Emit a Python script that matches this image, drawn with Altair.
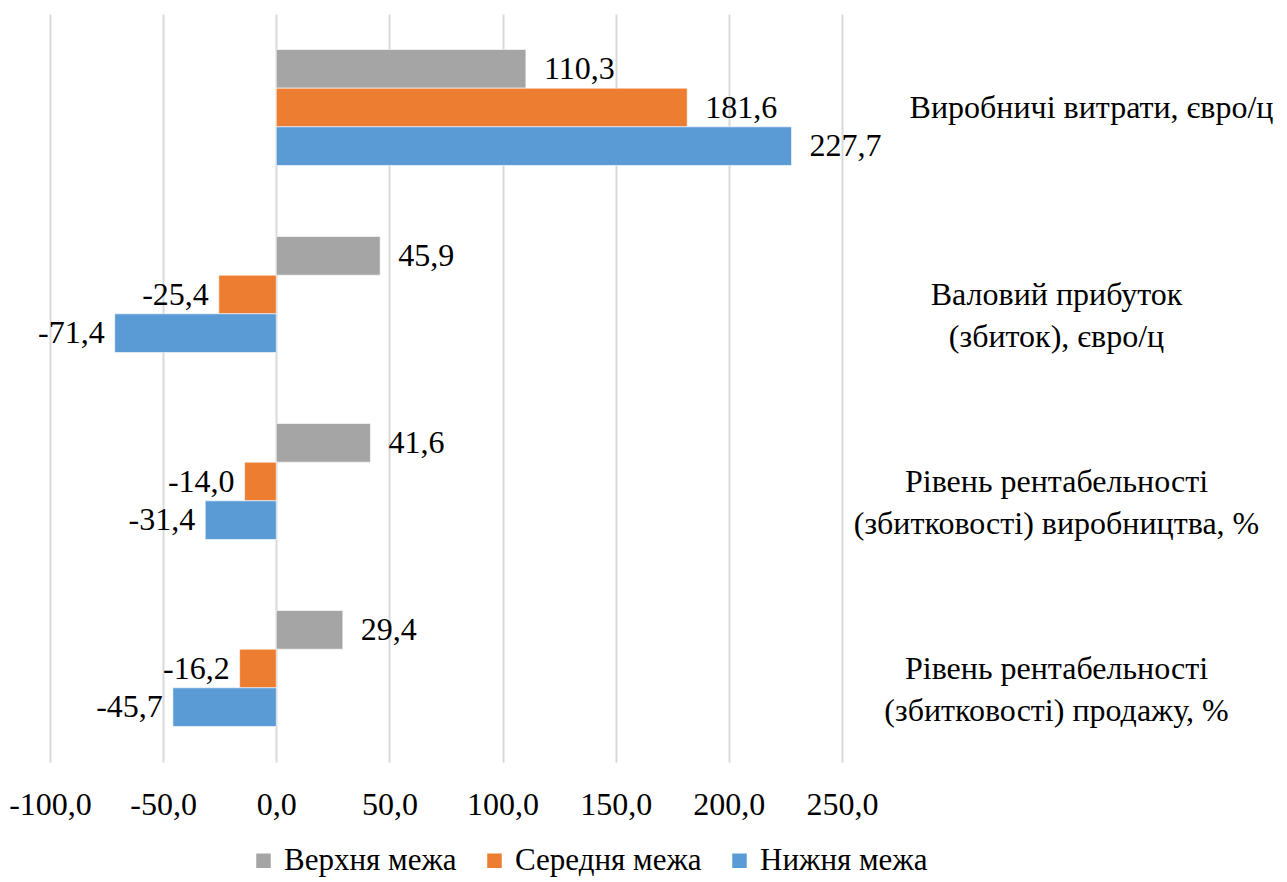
import altair as alt
import pandas as pd

categories = [
    "Виробничі витрати, євро/ц",
    "Валовий прибуток\n(збиток), євро/ц",
    "Рівень рентабельності\n(збитковості) виробництва, %",
    "Рівень рентабельності\n(збитковості) продажу, %",
]
series = ["Верхня межа", "Середня межа", "Нижня межа"]
upper = [110.3, 45.9, 41.6, 29.4]
middle = [181.6, -25.4, -14.0, -16.2]
lower = [227.7, -71.4, -31.4, -45.7]
colors = ["#A5A5A5", "#ED7D31", "#5B9BD5"]

rows = []
for s, vals in zip(series, [upper, middle, lower]):
    for c, v in zip(categories, vals):
        rows.append({"cat": c, "series": s, "v": v,
                     "lbl": f"{v:.1f}".replace(".", ",")})
df = pd.DataFrame(rows)

FONT = "Liberation Serif"

y = alt.Y("cat:N", sort=categories, title=None,
          scale=alt.Scale(paddingInner=0.38, paddingOuter=0.19),
          axis=alt.Axis(orient="right", domain=False, ticks=False,
                        labelAlign="center",
                        labelPadding={"condition": {"test": "indexof(datum.value, 'Виробничі') >= 0",
                                                    "value": 249},
                                      "value": 214},
                        labelFont=FONT, labelFontSize=32, labelColor="#000",
                        labelLineHeight=42, labelBaseline="middle",
                        labelExpr="split(datum.label, '\\n')", labelLimit=600))
yoff = alt.YOffset("series:N", sort=series)
x = alt.X("v:Q", title=None,
          scale=alt.Scale(domain=[-100, 250], nice=False, zero=False),
          axis=alt.Axis(values=[-100, -50, 0, 50, 100, 150, 200, 250],
                        domain=False, ticks=False, labelPadding=27,
                        labelOverlap=False, labelFlush=False, labelBound=False,
                        labelFont=FONT, labelFontSize=32, labelColor="#000",
                        labelExpr="replace(replace(format(datum.value, '.1f'), '.', ','), '\u2212', '-')",
                        grid=True, gridColor="#D9D9D9", gridWidth=2))

base = alt.Chart(df)

bars = base.mark_bar(stroke="white", strokeWidth=0.6).encode(
    y=y, yOffset=yoff, x=x,
    color=alt.Color("series:N", sort=series,
                    scale=alt.Scale(domain=series, range=colors),
                    legend=alt.Legend(title=None, orient="none", direction="horizontal",
                                      legendX=198, legendY=831,
                                      symbolType="square", symbolSize=210,
                                      symbolStrokeWidth=0,
                                      labelFont=FONT, labelFontSize=31, labelColor="#000",
                                      labelOffset=5, columnPadding=22, labelLimit=400)),
)

pos = base.transform_filter("datum.v >= 0").mark_text(
    align="left", baseline="middle", dx=18, font=FONT, fontSize=32, color="#000"
).encode(y=y, yOffset=yoff, x=x, text="lbl:N")

neg = base.transform_filter("datum.v < 0").mark_text(
    align="right", baseline="middle", dx=-10, font=FONT, fontSize=32, color="#000"
).encode(y=y, yOffset=yoff, x=x, text="lbl:N")

chart = alt.layer(bars, pos, neg).properties(
    width=792, height=748,
    autosize="none",
    padding={"left": 42, "top": 6, "right": 437, "bottom": 118},
    background="white",
).configure_view(stroke=None)

chart.save("out.html", embed_options={"renderer": "svg", "actions": False})
